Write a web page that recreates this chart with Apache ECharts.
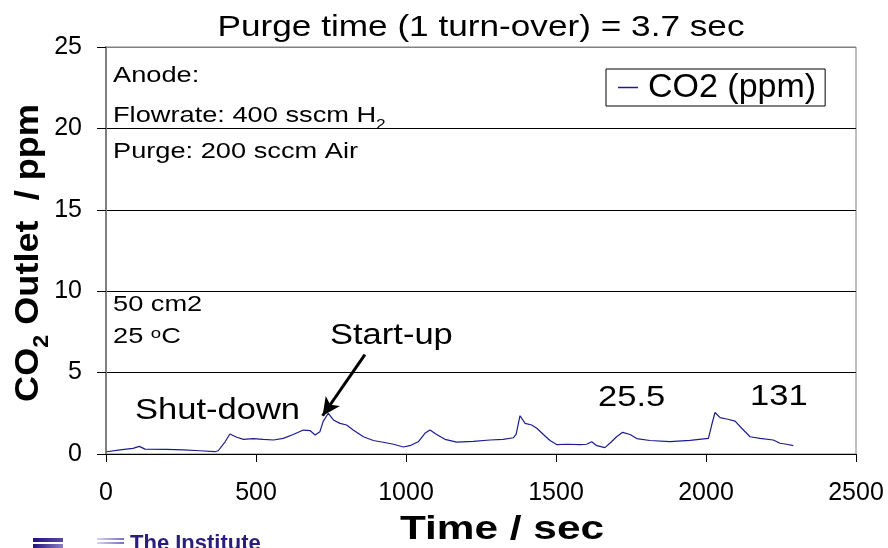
<!DOCTYPE html>
<html><head><meta charset="utf-8">
<script src="https://cdn.jsdelivr.net/npm/echarts@6/dist/echarts.min.js"></script>
<style>html,body{margin:0;padding:0;background:#fff}#c{width:888px;height:548px}</style>
</head><body><div id="c"></div>
<script>
// ---- data ----
const timeSec = [2,47,90,111,130,202,258,313,363,374,397,413,436,458,491,524,558,591,624,658,680,697,713,724,741,758,780,802,824,858,891,924,958,991,1013,1041,1063,1080,1102,1130,1169,1224,1280,1324,1358,1367,1380,1397,1419,1436,1458,1480,1502,1536,1580,1602,1619,1636,1663,1685,1702,1722,1747,1769,1813,1880,1947,2008,2019,2030,2047,2069,2097,2119,2147,2180,2224,2247,2269,2291];
const co2Ppm = [0.14,0.25,0.35,0.47,0.3,0.29,0.25,0.2,0.14,0.2,0.75,1.23,1.03,0.9,0.94,0.9,0.86,0.96,1.2,1.47,1.44,1.17,1.37,2.0,2.5,2.09,1.88,1.78,1.47,1.06,0.83,0.72,0.6,0.43,0.51,0.75,1.27,1.47,1.2,0.9,0.73,0.78,0.86,0.9,1.0,1.2,2.35,1.88,1.78,1.58,1.2,0.83,0.58,0.6,0.58,0.6,0.75,0.51,0.39,0.75,1.06,1.33,1.2,0.95,0.83,0.76,0.84,0.96,1.78,2.55,2.23,2.15,2.02,1.58,1.06,0.96,0.86,0.66,0.6,0.51];
const xRange = [0, 2500, 500];
const yRange = [0, 25, 5];
const arrowStart = [863, 6.1];
const arrowEnd = [722, 2.35];
const seriesName = 'CO2 (ppm)';

// ---- helpers ----
const FONT = '"Liberation Sans", Arial, sans-serif';
const mctx = document.createElement('canvas').getContext('2d');
function fitScale(text, size, weight, target) {
  mctx.font = weight + ' ' + size + 'px ' + FONT;
  return target / mctx.measureText(text).width;
}
function txt(text, x, y, size, opts) {
  opts = opts || {};
  const weight = opts.weight || 'normal';
  return {
    type: 'text', x: x, y: y, rotation: opts.rotation || 0,
    scaleX: opts.scale || 1, z: 100,
    style: {
      text: text, fill: opts.fill || '#000', fontSize: size, fontFamily: FONT,
      fontWeight: weight, align: opts.align || 'left', verticalAlign: opts.va || 'middle',
      rich: opts.rich
    }
  };
}

const smallSize = 22, bigSize = 29;
const smallScale = fitScale('Purge: 200 sccm Air', smallSize, 'normal', 245);
const bigScale = fitScale('Shut-down', bigSize, 'normal', 165);
const titleScale = fitScale('Purge time (1 turn-over) = 3.7 sec', bigSize, 'normal', 527);
const yNameScale = fitScale('CO2 Outlet  / ppm', 34, 'bold', 305);
const xNameScale = fitScale('Time / sec', 33, 'bold', 204);

const lineData = timeSec.map((t, i) => [t, co2Ppm[i]]);

const chart = echarts.init(document.getElementById('c'), null, {renderer: 'canvas'});
chart.setOption({
  animation: false,
  backgroundColor: '#fff',
  grid: {left: 106, right: 32, top: 47, bottom: 94, show: true, borderColor: '#808080', borderWidth: 1},
  legend: {
    show: true, left: 606, top: 69, orient: 'horizontal',
    padding: [1, 9, 1, 12], itemWidth: 20, itemHeight: 1.5, itemGap: 4,
    borderColor: '#000', borderWidth: 1, backgroundColor: '#fff',
    textStyle: {fontSize: 34, fontFamily: FONT, color: '#000', lineHeight: 35, padding: [0, 0, 0, 5]},
    data: [{name: seriesName, icon: 'rect'}]
  },
  xAxis: {
    type: 'value', min: xRange[0], max: xRange[1], interval: xRange[2],
    axisLine: {show: true, onZero: false, lineStyle: {color: '#000', width: 1}},
    axisTick: {show: true, length: 8, lineStyle: {color: '#000'}},
    axisLabel: {fontSize: 25, fontFamily: FONT, color: '#000', margin: 27, formatter: v => String(v)},
    splitLine: {show: false}
  },
  yAxis: {
    type: 'value', min: yRange[0], max: yRange[1], interval: yRange[2],
    axisLine: {show: true, lineStyle: {color: '#808080', width: 2}},
    axisTick: {show: true, length: 9, lineStyle: {color: '#000'}},
    axisLabel: {fontSize: 25, fontFamily: FONT, color: '#000', margin: 24, formatter: v => String(v)},
    splitLine: {show: true, lineStyle: {color: ['#000', '#000', '#000', '#000', '#000', '#808080'], width: 1}}
  },
  series: [{
    name: seriesName, type: 'line', data: lineData, symbol: 'none',
    lineStyle: {color: '#1c1c8e', width: 1.2}, itemStyle: {color: '#1c1c8e'},
    markLine: {
      silent: true, symbol: ['none', 'arrow'], symbolSize: [13, 18],
      label: {show: false},
      lineStyle: {color: '#000', width: 3, type: 'solid'},
      data: [[{coord: arrowStart}, {coord: arrowEnd}]]
    }
  }],
  graphic: [
    txt('Purge time (1 turn-over) = 3.7 sec', 481, 28, bigSize, {align: 'center', scale: titleScale}),
    txt('{a|CO}{b|2}{a| Outlet  / ppm}', 29, 253, 34, {
      align: 'center', rotation: Math.PI / 2, weight: 'bold', scale: yNameScale,
      rich: {a: {fontSize: 34, fontWeight: 'bold', fontFamily: FONT}, b: {fontSize: 22, fontWeight: 'bold', fontFamily: FONT, verticalAlign: 'bottom', padding: [0, 0, -7, 0]}}
    }),
    txt('Time / sec', 502, 530, 33, {align: 'center', weight: 'bold', scale: xNameScale}),
    txt('Anode:', 113, 76, smallSize, {scale: smallScale}),
    txt('{a|Flowrate: 400 sscm H}{b|2}', 113, 116, smallSize, {
      scale: smallScale,
      rich: {a: {fontSize: smallSize, fontFamily: FONT}, b: {fontSize: 14, fontFamily: FONT, verticalAlign: 'bottom', padding: [0, 0, -5, 0]}}
    }),
    txt('Purge: 200 sccm Air', 113, 152, smallSize, {scale: smallScale}),
    txt('50 cm2', 113, 305, smallSize, {scale: smallScale}),
    txt('{a|25 }{b|o}{a|C}', 113, 337, smallSize, {
      scale: smallScale,
      rich: {a: {fontSize: smallSize, fontFamily: FONT}, b: {fontSize: 15, fontFamily: FONT, verticalAlign: 'top'}}
    }),
    txt('Start-up', 330, 336, bigSize, {scale: bigScale}),
    txt('Shut-down', 135, 411, bigSize, {scale: bigScale}),
    txt('25.5', 598, 398, bigSize, {scale: bigScale}),
    txt('131', 750, 397, bigSize, {scale: bigScale}),
    // logo fragment at the bottom edge
    {type: 'rect', shape: {x: 33, y: 538, width: 30, height: 4}, style: {fill: {type: 'linear', x: 0, y: 0, x2: 1, y2: 0, colorStops: [{offset: 0, color: '#24127a'}, {offset: 1, color: '#5a4aa8'}]}}},
    {type: 'rect', shape: {x: 33, y: 544, width: 30, height: 4}, style: {fill: {type: 'linear', x: 0, y: 0, x2: 1, y2: 0, colorStops: [{offset: 0, color: '#24127a'}, {offset: 1, color: '#8a7fc4'}]}}},
    {type: 'rect', shape: {x: 97, y: 538, width: 27, height: 2}, style: {fill: {type: 'linear', x: 0, y: 0, x2: 1, y2: 0, colorStops: [{offset: 0, color: '#d8d4ee'}, {offset: 1, color: '#7a6fc0'}]}}},
    {type: 'rect', shape: {x: 97, y: 542, width: 27, height: 2}, style: {fill: {type: 'linear', x: 0, y: 0, x2: 1, y2: 0, colorStops: [{offset: 0, color: '#d8d4ee'}, {offset: 1, color: '#7a6fc0'}]}}},
    txt('The Institute', 130, 533, 22, {weight: 'bold', va: 'top', fill: '#2b1d7e'})
  ]
});
</script></body></html>
